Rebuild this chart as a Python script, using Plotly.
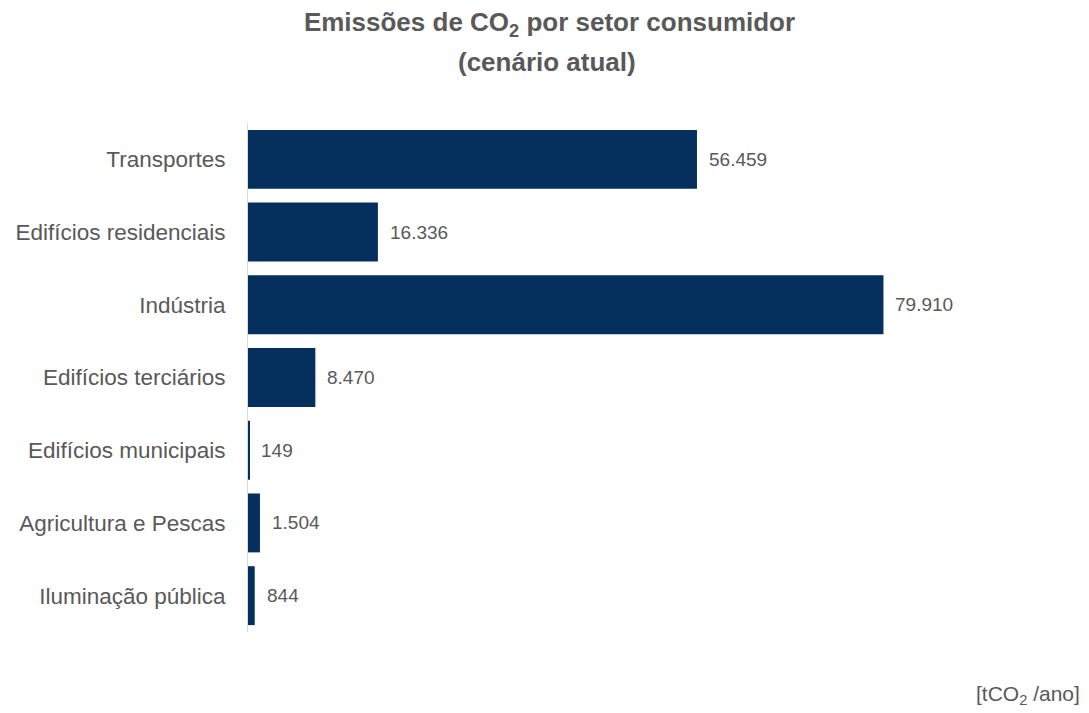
import plotly.graph_objects as go

categories = ["Transportes", "Edifícios residenciais", "Indústria", "Edifícios terciários",
              "Edifícios municipais", "Agricultura e Pescas", "Iluminação pública"]
values = [56459, 16336, 79910, 8470, 149, 1504, 844]

title_line1 = "<b>Emissões de CO<sub>2</sub> por setor consumidor</b>"
title_line2 = "<b>(cenário atual)</b>"
unit_label = "[tCO<sub>2</sub> /ano]"

bar_color = "#05305E"
text_color = "#595959"
font_family = "Liberation Sans, Arial, sans-serif"

# page has an 8px body margin: figure is sized to fit the 1089x713 window
W, H = 1081, 705
ML, MR, MT, MB = 240, 10, 115, 81
plot_w = W - ML - MR
plot_h = H - MT - MB

fig = go.Figure(go.Bar(
    y=categories, x=values, orientation="h",
    marker=dict(color=bar_color, line=dict(width=0)),
    hoverinfo="skip",
))

def fmt(v):
    return f"{v:,}".replace(",", ".")

annotations = []
for c, v in zip(categories, values):
    annotations.append(dict(
        x=v, y=c, xref="x", yref="y", text=fmt(v), showarrow=False,
        xanchor="left", yanchor="middle", xshift=10,
        font=dict(family=font_family, size=19, color=text_color),
    ))

# second title line
annotations.append(dict(
    x=(538.5 - ML) / plot_w, y=1 + (MT - 54) / plot_h, xref="paper", yref="paper",
    text=title_line2, showarrow=False, xanchor="center", yanchor="middle",
    font=dict(family=font_family, size=26, color=text_color),
))
# unit footnote
annotations.append(dict(
    x=(1074 - ML) / plot_w, y=-(687 - (MT + plot_h)) / plot_h, xref="paper", yref="paper",
    text=unit_label, showarrow=False, xanchor="right", yanchor="middle",
    font=dict(family=font_family, size=21, color=text_color),
))

fig.update_layout(
    width=W, height=H,
    margin=dict(l=ML, r=MR, t=MT, b=MB, autoexpand=False),
    paper_bgcolor="white", plot_bgcolor="white",
    bargap=0.19,
    showlegend=False,
    title=dict(
        text=title_line1,
        x=541.5 / W, xref="container", xanchor="center",
        y=1 - 14 / H, yref="container", yanchor="middle",
        font=dict(family=font_family, size=26, color=text_color),
    ),
    xaxis=dict(range=[0, 104500], visible=False, showgrid=False, zeroline=False),
    yaxis=dict(
        autorange="reversed", showgrid=False, zeroline=False,
        showline=True, linecolor="#D9D9D9", linewidth=1,
        ticks="", ticklabelstandoff=17,
        tickfont=dict(family=font_family, size=22.5, color=text_color),
    ),
    annotations=annotations,
)

fig.write_html("out.html")
